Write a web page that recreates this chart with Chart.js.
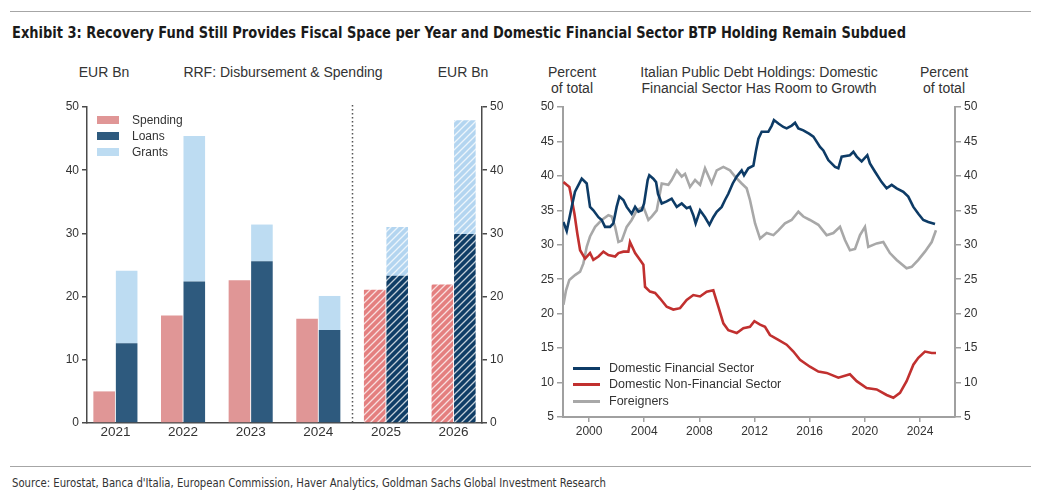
<!DOCTYPE html>
<html>
<head>
<meta charset="utf-8">
<script src="https://cdn.jsdelivr.net/npm/chart.js@4.4.1/dist/chart.umd.min.js"></script>
<style>
  body { margin: 0; background: #fff; width: 1041px; height: 500px; position: relative; overflow: hidden;
         font-family: "Liberation Sans", Arial, sans-serif; color: #333; }
  .rule { position: absolute; left: 10px; width: 1021px; border-top: 1.5px solid #a6a6a6; }
  .narrow { position: absolute; left: 12px; white-space: nowrap; transform-origin: 0 0;
            font-family: "Liberation Sans Narrow", "DejaVu Sans Condensed", sans-serif; }
  #title { top: 23px; font-size: 16px; font-weight: bold; color: #1a1a1a; }
  #source { top: 476px; font-size: 12px; color: #333; }
  .hdr { position: absolute; font-size: 14px; line-height: 16px; text-align: center; white-space: nowrap;
         transform: translateX(-50%); color: #333; }
  canvas { position: absolute; top: 95px; }
</style>
</head>
<body>
<div class="rule" style="top:11px"></div>
<div id="title" class="narrow">Exhibit 3: Recovery Fund Still Provides Fiscal Space per Year and Domestic Financial Sector BTP Holding Remain Subdued</div>

<div class="hdr" style="left:104px;top:64px">EUR Bn</div>
<div class="hdr" style="left:283px;top:64px">RRF: Disbursement &amp; Spending</div>
<div class="hdr" style="left:463px;top:64px">EUR Bn</div>

<div class="hdr" style="left:572px;top:64px">Percent<br>of total</div>
<div class="hdr" style="left:759px;top:64px">Italian Public Debt Holdings: Domestic<br>Financial Sector Has Room to Growth</div>
<div class="hdr" style="left:944px;top:64px">Percent<br>of total</div>

<canvas id="rrf" width="480" height="350" style="left:40px"></canvas>
<canvas id="debt" width="480" height="350" style="left:520px"></canvas>

<div class="rule" style="top:466px"></div>
<div id="source" class="narrow">Source: Eurostat, Banca d'Italia, European Commission, Haver Analytics, Goldman Sachs Global Investment Research</div>

<script>
// ---- left panel data (EUR bn)
const years = ['2021', '2022', '2023', '2024', '2025', '2026'];
const spending = [5.0, 17.0, 22.6, 16.5, 21.1, 21.9];
const loans = [12.6, 22.4, 25.6, 14.7, 23.3, 29.9];
const grants = [11.5, 23.0, 5.8, 5.4, 7.7, 18.0];
const rrfTicks = [0, 10, 20, 30, 40, 50];

// ---- right panel data, [year, percent of total]
const domFin = [
  [1998.14, 33.3], [1998.38, 32.0], [1998.74, 35.5], [1998.98, 37.7], [1999.47, 39.6], [1999.83, 38.9],
  [2000.07, 35.5], [2000.31, 35.0], [2000.68, 34.0], [2000.92, 33.6], [2001.16, 32.6], [2001.52, 32.6],
  [2001.76, 33.1], [2002.0, 35.5], [2002.2, 37.0], [2002.49, 36.5], [2002.73, 35.5], [2003.09, 34.5],
  [2003.34, 35.5], [2003.58, 34.8], [2003.82, 35.0], [2003.99, 36.0], [2004.25, 39.4], [2004.37, 40.1],
  [2004.66, 39.6], [2004.86, 39.1], [2005.0, 37.4], [2005.27, 36.0], [2005.63, 36.3], [2005.99, 36.7],
  [2006.36, 35.5], [2006.72, 36.0], [2007.08, 35.3], [2007.32, 35.5], [2007.56, 34.3], [2007.73, 33.1],
  [2008.05, 35.0], [2008.41, 34.0], [2008.73, 32.9], [2009.01, 34.0], [2009.26, 34.8], [2009.62, 35.5],
  [2009.86, 36.5], [2010.1, 37.4], [2010.42, 38.9], [2010.71, 39.9], [2011.07, 40.8], [2011.24, 40.1],
  [2011.55, 41.1], [2011.92, 41.5], [2012.11, 43.7], [2012.28, 45.4], [2012.52, 46.4], [2013.0, 46.4],
  [2013.25, 47.3], [2013.41, 48.1], [2013.73, 47.6], [2014.09, 47.1], [2014.33, 46.9], [2014.7, 47.3],
  [2014.94, 47.7], [2015.18, 46.9], [2015.54, 46.6], [2015.98, 46.1], [2016.27, 45.7], [2016.75, 44.2],
  [2016.99, 43.7], [2017.35, 42.3], [2017.84, 41.3], [2018.08, 41.1], [2018.32, 42.8], [2018.92, 43.0],
  [2019.17, 43.5], [2019.41, 42.8], [2019.77, 42.1], [2020.18, 43.0], [2020.37, 41.8], [2020.74, 40.6],
  [2021.22, 39.1], [2021.58, 38.2], [2021.95, 38.7], [2022.31, 38.2], [2022.79, 37.7], [2023.15, 37.0],
  [2023.52, 35.5], [2023.88, 34.5], [2024.24, 33.6], [2024.6, 33.3], [2025.09, 33.0]
];
const domNonFin = [
  [1998.14, 39.1], [1998.38, 38.7], [1998.57, 38.4], [1998.67, 37.4], [1998.94, 34.5], [1999.15, 31.6],
  [1999.35, 29.2], [1999.71, 28.0], [2000.07, 28.8], [2000.31, 27.8], [2000.68, 28.3], [2001.04, 29.0],
  [2001.4, 28.5], [2001.89, 28.3], [2002.13, 28.8], [2002.49, 29.0], [2002.85, 29.0], [2002.97, 30.4],
  [2003.34, 28.8], [2003.7, 27.8], [2003.94, 27.1], [2004.06, 23.9], [2004.42, 23.2], [2004.79, 23.0],
  [2005.15, 22.2], [2005.63, 21.0], [2006.11, 20.6], [2006.6, 20.8], [2007.08, 22.0], [2007.56, 22.7],
  [2008.05, 22.5], [2008.53, 23.2], [2009.01, 23.4], [2009.38, 21.0], [2009.74, 18.6], [2010.1, 17.6],
  [2010.71, 17.2], [2011.19, 17.9], [2011.67, 18.1], [2011.99, 18.9], [2012.4, 18.4], [2012.76, 18.1],
  [2013.12, 16.9], [2013.73, 16.2], [2014.33, 15.5], [2014.82, 14.5], [2015.3, 13.3], [2016.02, 12.3],
  [2016.63, 11.6], [2017.23, 11.4], [2018.08, 10.7], [2018.92, 11.2], [2019.41, 10.2], [2020.13, 9.2],
  [2020.86, 9.0], [2021.58, 8.2], [2022.07, 7.8], [2022.55, 8.5], [2023.03, 10.2], [2023.52, 12.6],
  [2023.88, 13.6], [2024.36, 14.5], [2024.85, 14.3], [2025.16, 14.3]
];
const foreigners = [
  [1998.14, 21.3], [1998.33, 23.4], [1998.57, 24.9], [1998.98, 25.6], [1999.35, 26.1], [1999.59, 27.3],
  [1999.83, 29.7], [2000.07, 31.2], [2000.44, 32.6], [2000.92, 33.6], [2001.4, 34.3], [2001.64, 34.1],
  [2001.89, 32.6], [2002.13, 30.4], [2002.37, 30.6], [2002.73, 32.6], [2003.09, 33.6], [2003.46, 35.0],
  [2003.94, 35.5], [2004.3, 33.6], [2004.54, 34.1], [2004.91, 35.0], [2005.27, 38.9], [2005.75, 38.7],
  [2005.99, 39.4], [2006.36, 40.8], [2006.72, 39.9], [2006.96, 40.3], [2007.32, 38.4], [2007.69, 39.4],
  [2008.05, 38.7], [2008.41, 41.1], [2008.89, 38.9], [2009.26, 40.8], [2009.74, 41.3], [2010.22, 40.8],
  [2010.59, 39.9], [2011.07, 38.9], [2011.43, 38.2], [2011.67, 36.5], [2012.04, 33.1], [2012.4, 30.9],
  [2012.88, 31.7], [2013.37, 31.4], [2013.73, 32.1], [2014.21, 33.1], [2014.69, 33.6], [2015.18, 34.8],
  [2015.54, 34.1], [2016.02, 33.6], [2016.63, 32.9], [2017.23, 31.4], [2017.72, 31.7], [2018.2, 32.6],
  [2018.56, 30.7], [2018.92, 29.2], [2019.29, 29.4], [2019.65, 31.4], [2020.01, 32.6], [2020.25, 29.7],
  [2020.86, 30.2], [2021.34, 30.4], [2021.82, 28.8], [2022.31, 27.8], [2023.03, 26.6], [2023.4, 26.8],
  [2023.88, 27.8], [2024.36, 29.0], [2024.85, 30.4], [2025.16, 32.1]
];
const debtYTicks = [5, 10, 15, 20, 25, 30, 35, 40, 45, 50];
const debtXTicks = [2000, 2004, 2008, 2012, 2016, 2020, 2024];

// colours
const C = {
  spend: '#e09696', spendF: '#e47f7f',
  loan: '#2e5a7e', loanF: '#0f3d66',
  grant: '#bddcf2', grantF: '#b3d5f0',
  fin: '#0d3b66', nonFin: '#c1302f', frg: '#a8a8a8'
};

Chart.defaults.font.family = '"Liberation Sans", Arial, sans-serif';
Chart.defaults.color = '#333';

// forecast years (2025/26) are drawn hatched
function hatch(color) {
  const c = document.createElement('canvas');
  c.width = c.height = 7;
  const g = c.getContext('2d');
  g.fillStyle = color;
  g.fillRect(0, 0, 7, 7);
  g.strokeStyle = 'rgba(255,255,255,0.75)';
  g.lineWidth = 1.3;
  g.beginPath();
  g.moveTo(-1, 8); g.lineTo(8, -1);
  g.moveTo(-1, 1); g.lineTo(1, -1);
  g.moveTo(6, 8); g.lineTo(8, 6);
  g.stroke();
  return g.createPattern(c, 'repeat');
}
const firstForecast = 4;
const fillFor = (plain, fc) => {
  const pat = hatch(fc);
  return ctx => (ctx.type === 'data' && ctx.dataIndex >= firstForecast) ? pat : plain;
};

// legend drawn inside the plot, placed relative to the chart area
const boxLegend = {
  id: 'boxLegend',
  afterDraw(chart, args, o) {
    const { ctx, chartArea } = chart;
    ctx.save();
    ctx.font = o.size + 'px "Liberation Sans", Arial, sans-serif';
    ctx.textBaseline = 'middle';
    chart.data.datasets.forEach((ds, i) => {
      const y = (o.fromBottom ? chartArea.bottom - o.y : chartArea.top + o.y) + i * o.gap;
      const x = chartArea.left + o.x;
      ctx.fillStyle = o.colors[i];
      ctx.fillRect(x, Math.round(y - o.boxH / 2), o.boxW, o.boxH);
      ctx.fillStyle = '#333';
      ctx.fillText(ds.label, x + o.textX, y + 0.5);
    });
    ctx.restore();
  }
};

const dividerLine = {
  id: 'divider',
  afterDatasetsDraw(chart) {
    const { ctx, chartArea, scales } = chart;
    const x = Math.round(scales.x.getPixelForValue(3.5)) + 0.5;
    ctx.save();
    ctx.strokeStyle = '#555';
    ctx.lineWidth = 1.5;
    ctx.setLineDash([1.5, 2.5]);
    ctx.beginPath();
    ctx.moveTo(x, chartArea.top - 2);
    ctx.lineTo(x, chartArea.bottom);
    ctx.stroke();
    ctx.restore();
  }
};

const axisDark = '#4a4a4a';
const rrfY = (pos, w) => ({
  position: pos, min: 0, max: 50, stacked: true,
  afterBuildTicks: s => { s.ticks = rrfTicks.map(v => ({ value: v })); },
  ticks: { font: { size: 12 }, color: '#333', padding: 3 },
  grid: { drawOnChartArea: false, drawTicks: true, tickLength: 5, color: axisDark, lineWidth: 1.5 },
  border: { color: axisDark, width: 1.5 },
  afterFit: s => { s.width = w; }
});

new Chart(document.getElementById('rrf'), {
  type: 'bar',
  data: {
    datasets: [
      { label: 'Spending', data: spending.map((v, i) => ({ x: i, y: v })), stack: 'spend',
        backgroundColor: fillFor(C.spend, C.spendF) },
      { label: 'Loans', data: loans.map((v, i) => ({ x: i, y: v })), stack: 'rrf',
        backgroundColor: fillFor(C.loan, C.loanF) },
      { label: 'Grants', data: grants.map((v, i) => ({ x: i, y: v })), stack: 'rrf',
        backgroundColor: fillFor(C.grant, C.grantF) }
    ]
  },
  options: {
    responsive: false,
    devicePixelRatio: 1,
    animation: false,
    layout: { padding: { top: 12, left: 0, right: 0, bottom: 0 } },
    datasets: { bar: { categoryPercentage: 0.665, barPercentage: 0.96, borderWidth: 0 } },
    scales: {
      x: {
        type: 'linear', min: -0.42, max: 5.42, stacked: true, offset: false,
        afterBuildTicks: s => { s.ticks = years.map((_, i) => ({ value: i })); },
        ticks: { callback: v => years[v], font: { size: 13.5 }, color: '#333', padding: 1, maxRotation: 0 },
        grid: { display: false, drawTicks: false, offset: false },
        border: { color: axisDark, width: 1.5 },
        afterFit: s => { s.height = 22; }
      },
      y: rrfY('left', 47),
      y2: rrfY('right', 38)
    },
    plugins: {
      legend: { display: false },
      tooltip: { enabled: false },
      boxLegend: { x: 10, y: 13, gap: 16, boxW: 22, boxH: 8, textX: 35, size: 12,
                   colors: [C.spend, C.loan, C.grant] }
    }
  },
  plugins: [dividerLine, boxLegend]
});

const axisGrey = '#a0a0a0';
const debtY = (pos, w) => ({
  position: pos, min: 5, max: 50,
  afterBuildTicks: s => { s.ticks = debtYTicks.map(v => ({ value: v })); },
  ticks: { font: { size: 12 }, color: '#333', padding: 3 },
  grid: { drawOnChartArea: false, drawTicks: true, tickLength: 6, color: axisGrey, lineWidth: 1.5 },
  border: { color: axisGrey, width: 2 },
  afterFit: s => { s.width = w; }
});
const line = (label, pts, color) => ({
  label, data: pts.map(p => ({ x: p[0], y: p[1] })), borderColor: color, backgroundColor: color,
  borderWidth: 2.6, pointRadius: 0, tension: 0, yAxisID: 'y'
});

new Chart(document.getElementById('debt'), {
  type: 'line',
  data: {
    datasets: [
      line('Domestic Financial Sector', domFin, C.fin),
      line('Domestic Non-Financial Sector', domNonFin, C.nonFin),
      line('Foreigners', foreigners, C.frg)
    ]
  },
  options: {
    responsive: false,
    devicePixelRatio: 1,
    animation: false,
    layout: { padding: { top: 12, left: 0, right: 0, bottom: 0 } },
    scales: {
      x: {
        type: 'linear', min: 1998.11, max: 2026.54,
        afterBuildTicks: s => { s.ticks = debtXTicks.map(v => ({ value: v })); },
        ticks: { callback: v => String(v), font: { size: 12 }, color: '#333', padding: 2, maxRotation: 0 },
        grid: { drawOnChartArea: false, drawTicks: true, tickLength: 5, color: axisGrey, lineWidth: 1.5 },
        border: { color: axisGrey, width: 2 },
        afterFit: s => { s.height = 28; }
      },
      y: debtY('left', 43),
      y2: debtY('right', 45)
    },
    plugins: {
      legend: { display: false },
      tooltip: { enabled: false },
      boxLegend: { x: 10, y: 49, fromBottom: true, gap: 16.5, boxW: 27, boxH: 3, textX: 36, size: 12.5,
                   colors: [C.fin, C.nonFin, C.frg] }
    }
  },
  plugins: [boxLegend]
});

// squeeze the narrow header/footer text to the reference widths
function fitWidth(id, w) {
  const el = document.getElementById(id);
  el.style.transform = 'scaleX(' + (w / el.getBoundingClientRect().width) + ')';
}
fitWidth('title', 894);
fitWidth('source', 594);
</script>
</body>
</html>
